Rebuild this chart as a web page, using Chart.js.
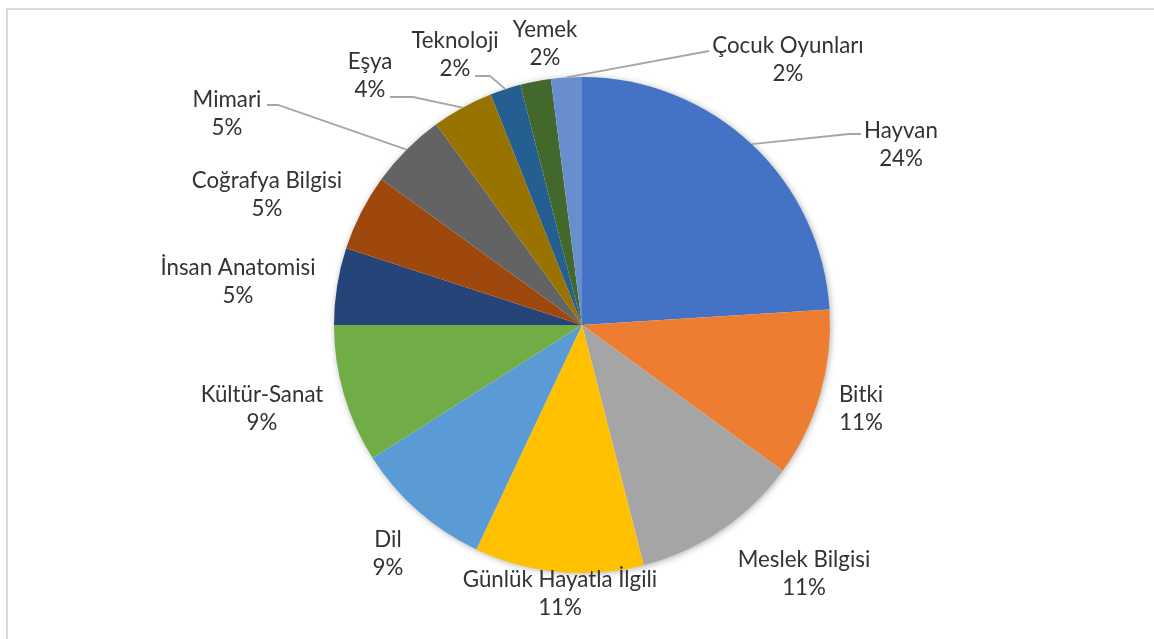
<!DOCTYPE html>
<html>
<head>
<meta charset="utf-8">
<script src="https://cdn.jsdelivr.net/npm/chart.js@4.4.1/dist/chart.umd.min.js"></script>
<style>
  html, body { margin: 0; padding: 0; background: #ffffff; }
  #wrap { position: relative; width: 1154px; height: 639px; overflow: hidden; }
  #frame { position: absolute; left: 6px; top: 8px; width: 1200px; height: 700px;
           border-left: 2px solid #d9d9d9; border-top: 2px solid #d9d9d9; box-sizing: border-box; }
  canvas { position: absolute; left: 0; top: 0; }
</style>
</head>
<body>
<div id="wrap">
  <div id="frame"></div>
  <canvas id="c" width="1154" height="639"></canvas>
</div>
<script>
// ---- data ----
const categories = ["Hayvan", "Bitki", "Meslek Bilgisi", "Günlük Hayatla İlgili", "Dil",
  "Kültür-Sanat", "İnsan Anatomisi", "Coğrafya Bilgisi", "Mimari", "Eşya",
  "Teknoloji", "Yemek", "Çocuk Oyunları"];
const values = [24, 11, 11, 11, 9, 9, 5, 5, 5, 4, 2, 2, 2];
const percentLabels = ["24%", "11%", "11%", "11%", "9%", "9%", "5%", "5%", "5%", "4%", "2%", "2%", "2%"];

// ---- styles / layout (not data) ----
const colors = ["#4472C4", "#ED7D31", "#A5A5A5", "#FFC000", "#5B9BD5", "#70AD47",
  "#264478", "#9E480E", "#636363", "#997300", "#255E91", "#43682B", "#698ED0"];
// label centre (name line) relative to pie centre, in px
const labelOffsets = [
  [319, -194], [279, 70], [222, 235], [-22, 255], [-194, 215], [-320, 70],
  [-344, -57], [-315, -144], [-355, -225], [-212, -263], [-127, -284], [-37, -295], [206, -279]
];
// leader: [end dx from label centre, end dy, horizontal elbow length toward pie]
const leaders = [
  [-40, 3, 12], null, null, null, null, null, null, null,
  [40, 5, 11], [20, 35, 23], [20, 35, 15], null, [-79, 5, 0]
];
const FONT_FAMILY = 'Lato, "Liberation Sans", sans-serif';
const TARGET_WIDTH = 194; // width of longest label in reference
const LINE_GAP = 28;

let fontSize = null;
function getFont(ctx) {
  if (fontSize === null) {
    ctx.save();
    ctx.font = '20px ' + FONT_FAMILY;
    const w = ctx.measureText(categories[3]).width;
    ctx.restore();
    fontSize = Math.round(20 * TARGET_WIDTH / w * 10) / 10;
  }
  return fontSize + 'px ' + FONT_FAMILY;
}

const shadowPlugin = {
  id: 'pieShadow',
  beforeDatasetsDraw(chart) {
    const arc = chart.getDatasetMeta(0).data[0];
    if (!arc) return;
    const ctx = chart.ctx;
    ctx.save();
    ctx.shadowColor = 'rgba(0,0,0,0.35)';
    ctx.shadowBlur = 7;
    ctx.shadowOffsetX = 1;
    ctx.shadowOffsetY = 1;
    ctx.fillStyle = '#ffffff';
    ctx.beginPath();
    ctx.arc(arc.x, arc.y, arc.outerRadius - 0.5, 0, Math.PI * 2);
    ctx.fill();
    ctx.restore();
  }
};

const labelPlugin = {
  id: 'outLabels',
  afterDatasetsDraw(chart) {
    const ctx = chart.ctx;
    const meta = chart.getDatasetMeta(0);
    ctx.save();
    ctx.font = getFont(ctx);
    ctx.fillStyle = '#333333';
    ctx.textAlign = 'center';
    ctx.textBaseline = 'middle';
    meta.data.forEach((arc, i) => {
      const cx = arc.x, cy = arc.y;
      const lx = cx + labelOffsets[i][0];
      const ly = cy + labelOffsets[i][1];
      ctx.fillText(categories[i], lx, ly);
      ctx.fillText(percentLabels[i], lx, ly + LINE_GAP);
      const ld = leaders[i];
      if (ld) {
        const mid = (arc.startAngle + arc.endAngle) / 2;
        const sx = cx + Math.cos(mid) * arc.outerRadius;
        const sy = cy + Math.sin(mid) * arc.outerRadius;
        const ex = lx + ld[0], ey = ly + ld[1];
        const dir = sx > ex ? 1 : -1;
        const bx = ex + dir * ld[2];
        ctx.save();
        ctx.strokeStyle = '#a6a6a6';
        ctx.lineWidth = 1.8;
        ctx.beginPath();
        ctx.moveTo(sx, sy);
        ctx.lineTo(bx, ey);
        ctx.lineTo(ex, ey);
        ctx.stroke();
        ctx.restore();
      }
    });
    ctx.restore();
  }
};

new Chart(document.getElementById('c'), {
  type: 'pie',
  data: {
    labels: categories,
    datasets: [{
      data: values,
      backgroundColor: colors,
      borderWidth: 0
    }]
  },
  options: {
    responsive: false,
    animation: false,
    layout: { padding: { top: 77, bottom: 66, left: 334, right: 324 } },
    plugins: { legend: { display: false }, tooltip: { enabled: false } }
  },
  plugins: [shadowPlugin, labelPlugin]
});
</script>
</body>
</html>
